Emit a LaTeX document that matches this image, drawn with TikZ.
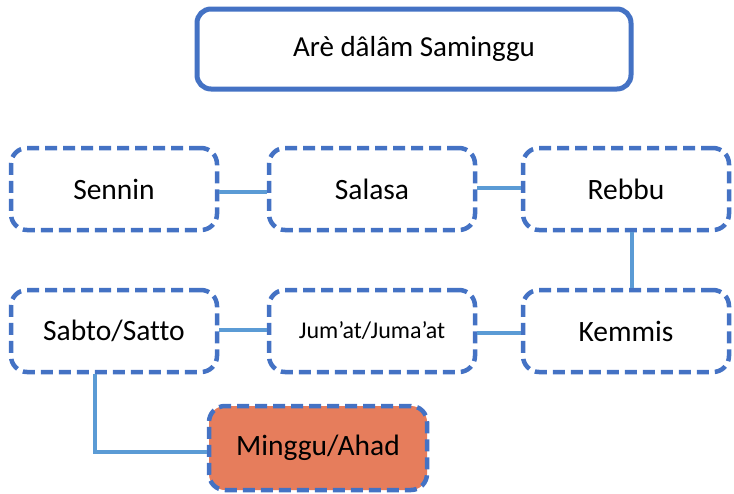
\documentclass[tikz,border=0pt]{standalone}
\usepackage{fontspec}
\setmainfont[Ligatures=NoCommon]{Carlito}
\definecolor{boxblue}{RGB}{68,114,196}
\definecolor{linkblue}{RGB}{91,155,213}
\definecolor{sunday}{RGB}{230,125,92}
\begin{document}
\begin{tikzpicture}[x=1pt,y=-1pt,
  daybox/.style={draw=boxblue,line width=4.5pt,dash pattern=on 12pt off 6pt,
    rounded corners=16pt,minimum width=206pt,minimum height=82pt,
    font=\fontsize{29.5}{34}\selectfont,text=black,inner sep=0pt},
  titlebox/.style={draw=boxblue,line width=5pt,rounded corners=14pt,
    minimum width=434pt,minimum height=80pt,font=\fontsize{29}{34}\selectfont,inner sep=0pt},
  link/.style={draw=linkblue,line width=4pt}]
\useasboundingbox (0,0) rectangle (734,493);
\node[titlebox] (title) at (414,49) {Arè dâlâm Saminggu};
\node[daybox] (sen) at (114,189) {Sennin};
\node[daybox] (sel) at (372,189) {Salasa};
\node[daybox] (reb) at (626,189) {Rebbu};
\node[daybox] (kem) at (626,331) {Kemmis};
\node[daybox,font=\fontsize{24}{28}\selectfont] (jum) at (372,331) {Jum’at/Juma’at};
\node[daybox] (sab) at (114,331) {Sabto/Satto};
\node[daybox,fill=sunday,minimum width=218pt,minimum height=84pt] (min) at (318,448) {Minggu/Ahad};
\draw[link] (sen.east |- 0,192) -- (sel.west |- 0,192);
\draw[link] (sel.east |- 0,188) -- (reb.west |- 0,188);
\draw[link] (reb.south -| 632,0) -- (kem.north -| 632,0);
\draw[link] (kem.west |- 0,333) -- (jum.east |- 0,333);
\draw[link] (jum.west |- 0,330) -- (sab.east |- 0,330);
\draw[link] (sab.south -| 95,0) -- (95,452) -- (min.west |- 0,452);
\end{tikzpicture}
\end{document}
